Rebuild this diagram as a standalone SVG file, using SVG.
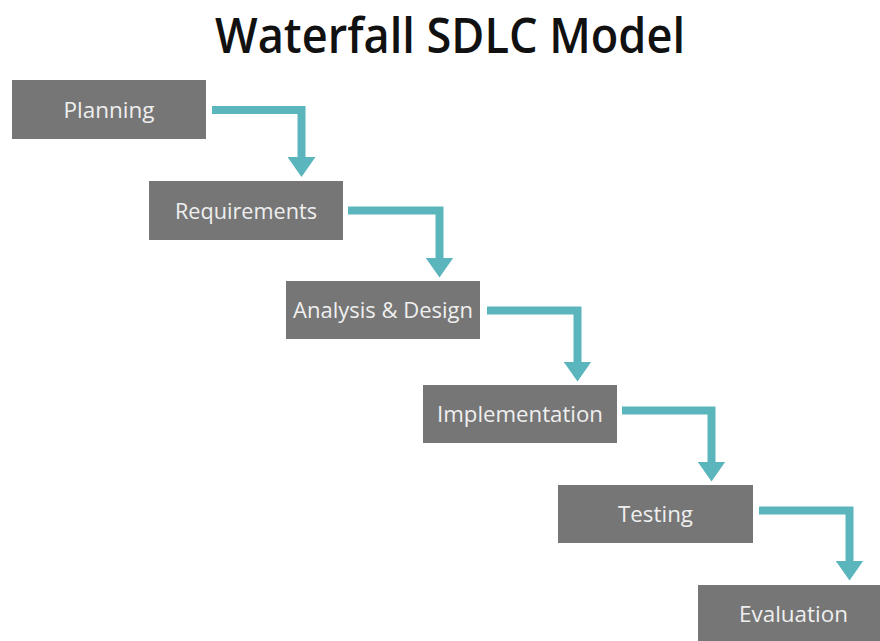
<svg xmlns="http://www.w3.org/2000/svg" width="880" height="641" viewBox="0 0 880 641">
  <style>
    .box { fill: #767676; }
    .lbl { fill: #efefef; font-family: "Open Sans", "Noto Sans", "Liberation Sans", sans-serif; font-size: 21px; text-anchor: middle; }
    .title { fill: #111; font-family: "Open Sans", "Noto Sans", "Liberation Sans", sans-serif; font-size: 49px; font-weight: 600; text-anchor: middle; }
    .conn { fill: none; stroke: #5bb5bc; stroke-width: 8; stroke-linejoin: miter; }
  </style>
  <defs>
    <marker id="ah" markerUnits="userSpaceOnUse" markerWidth="20" markerHeight="28" viewBox="0 0 20 28" refX="0.5" refY="14" orient="auto">
      <path d="M0,0 L20,14 L0,28 z" fill="#5bb5bc"/>
    </marker>
  </defs>
  <rect width="880" height="641" fill="#ffffff"/>
  <text class="title" x="450" y="52.5" textLength="470" lengthAdjust="spacingAndGlyphs">Waterfall SDLC Model</text>

  <g id="connectors">
    <path class="conn" marker-end="url(#ah)" d="M212,110 H301.5 V157.5"/>
    <path class="conn" marker-end="url(#ah)" d="M348,210.5 H439.5 V258"/>
    <path class="conn" marker-end="url(#ah)" d="M487,310.5 H577.5 V362"/>
    <path class="conn" marker-end="url(#ah)" d="M622,410.5 H711.5 V462"/>
    <path class="conn" marker-end="url(#ah)" d="M759,510.5 H849.5 V561"/>
  </g>

  <g id="planning">
    <rect class="box" x="12" y="80" width="194" height="59"/>
    <text class="lbl" x="109" y="117.5" textLength="91" lengthAdjust="spacingAndGlyphs">Planning</text>
  </g>
  <g id="requirements">
    <rect class="box" x="149" y="181" width="194" height="59"/>
    <text class="lbl" x="246" y="218.5" textLength="142" lengthAdjust="spacingAndGlyphs">Requirements</text>
  </g>
  <g id="analysis-design">
    <rect class="box" x="286" y="281" width="194" height="58"/>
    <text class="lbl" x="383" y="318" textLength="180" lengthAdjust="spacingAndGlyphs">Analysis &amp; Design</text>
  </g>
  <g id="implementation">
    <rect class="box" x="423" y="385" width="194" height="58"/>
    <text class="lbl" x="520" y="422" textLength="166" lengthAdjust="spacingAndGlyphs">Implementation</text>
  </g>
  <g id="testing">
    <rect class="box" x="558" y="485" width="195" height="58"/>
    <text class="lbl" x="655.5" y="522" textLength="75" lengthAdjust="spacingAndGlyphs">Testing</text>
  </g>
  <g id="evaluation">
    <rect class="box" x="698" y="585" width="194" height="58"/>
    <text class="lbl" x="793.5" y="622" textLength="109" lengthAdjust="spacingAndGlyphs">Evaluation</text>
  </g>
</svg>
